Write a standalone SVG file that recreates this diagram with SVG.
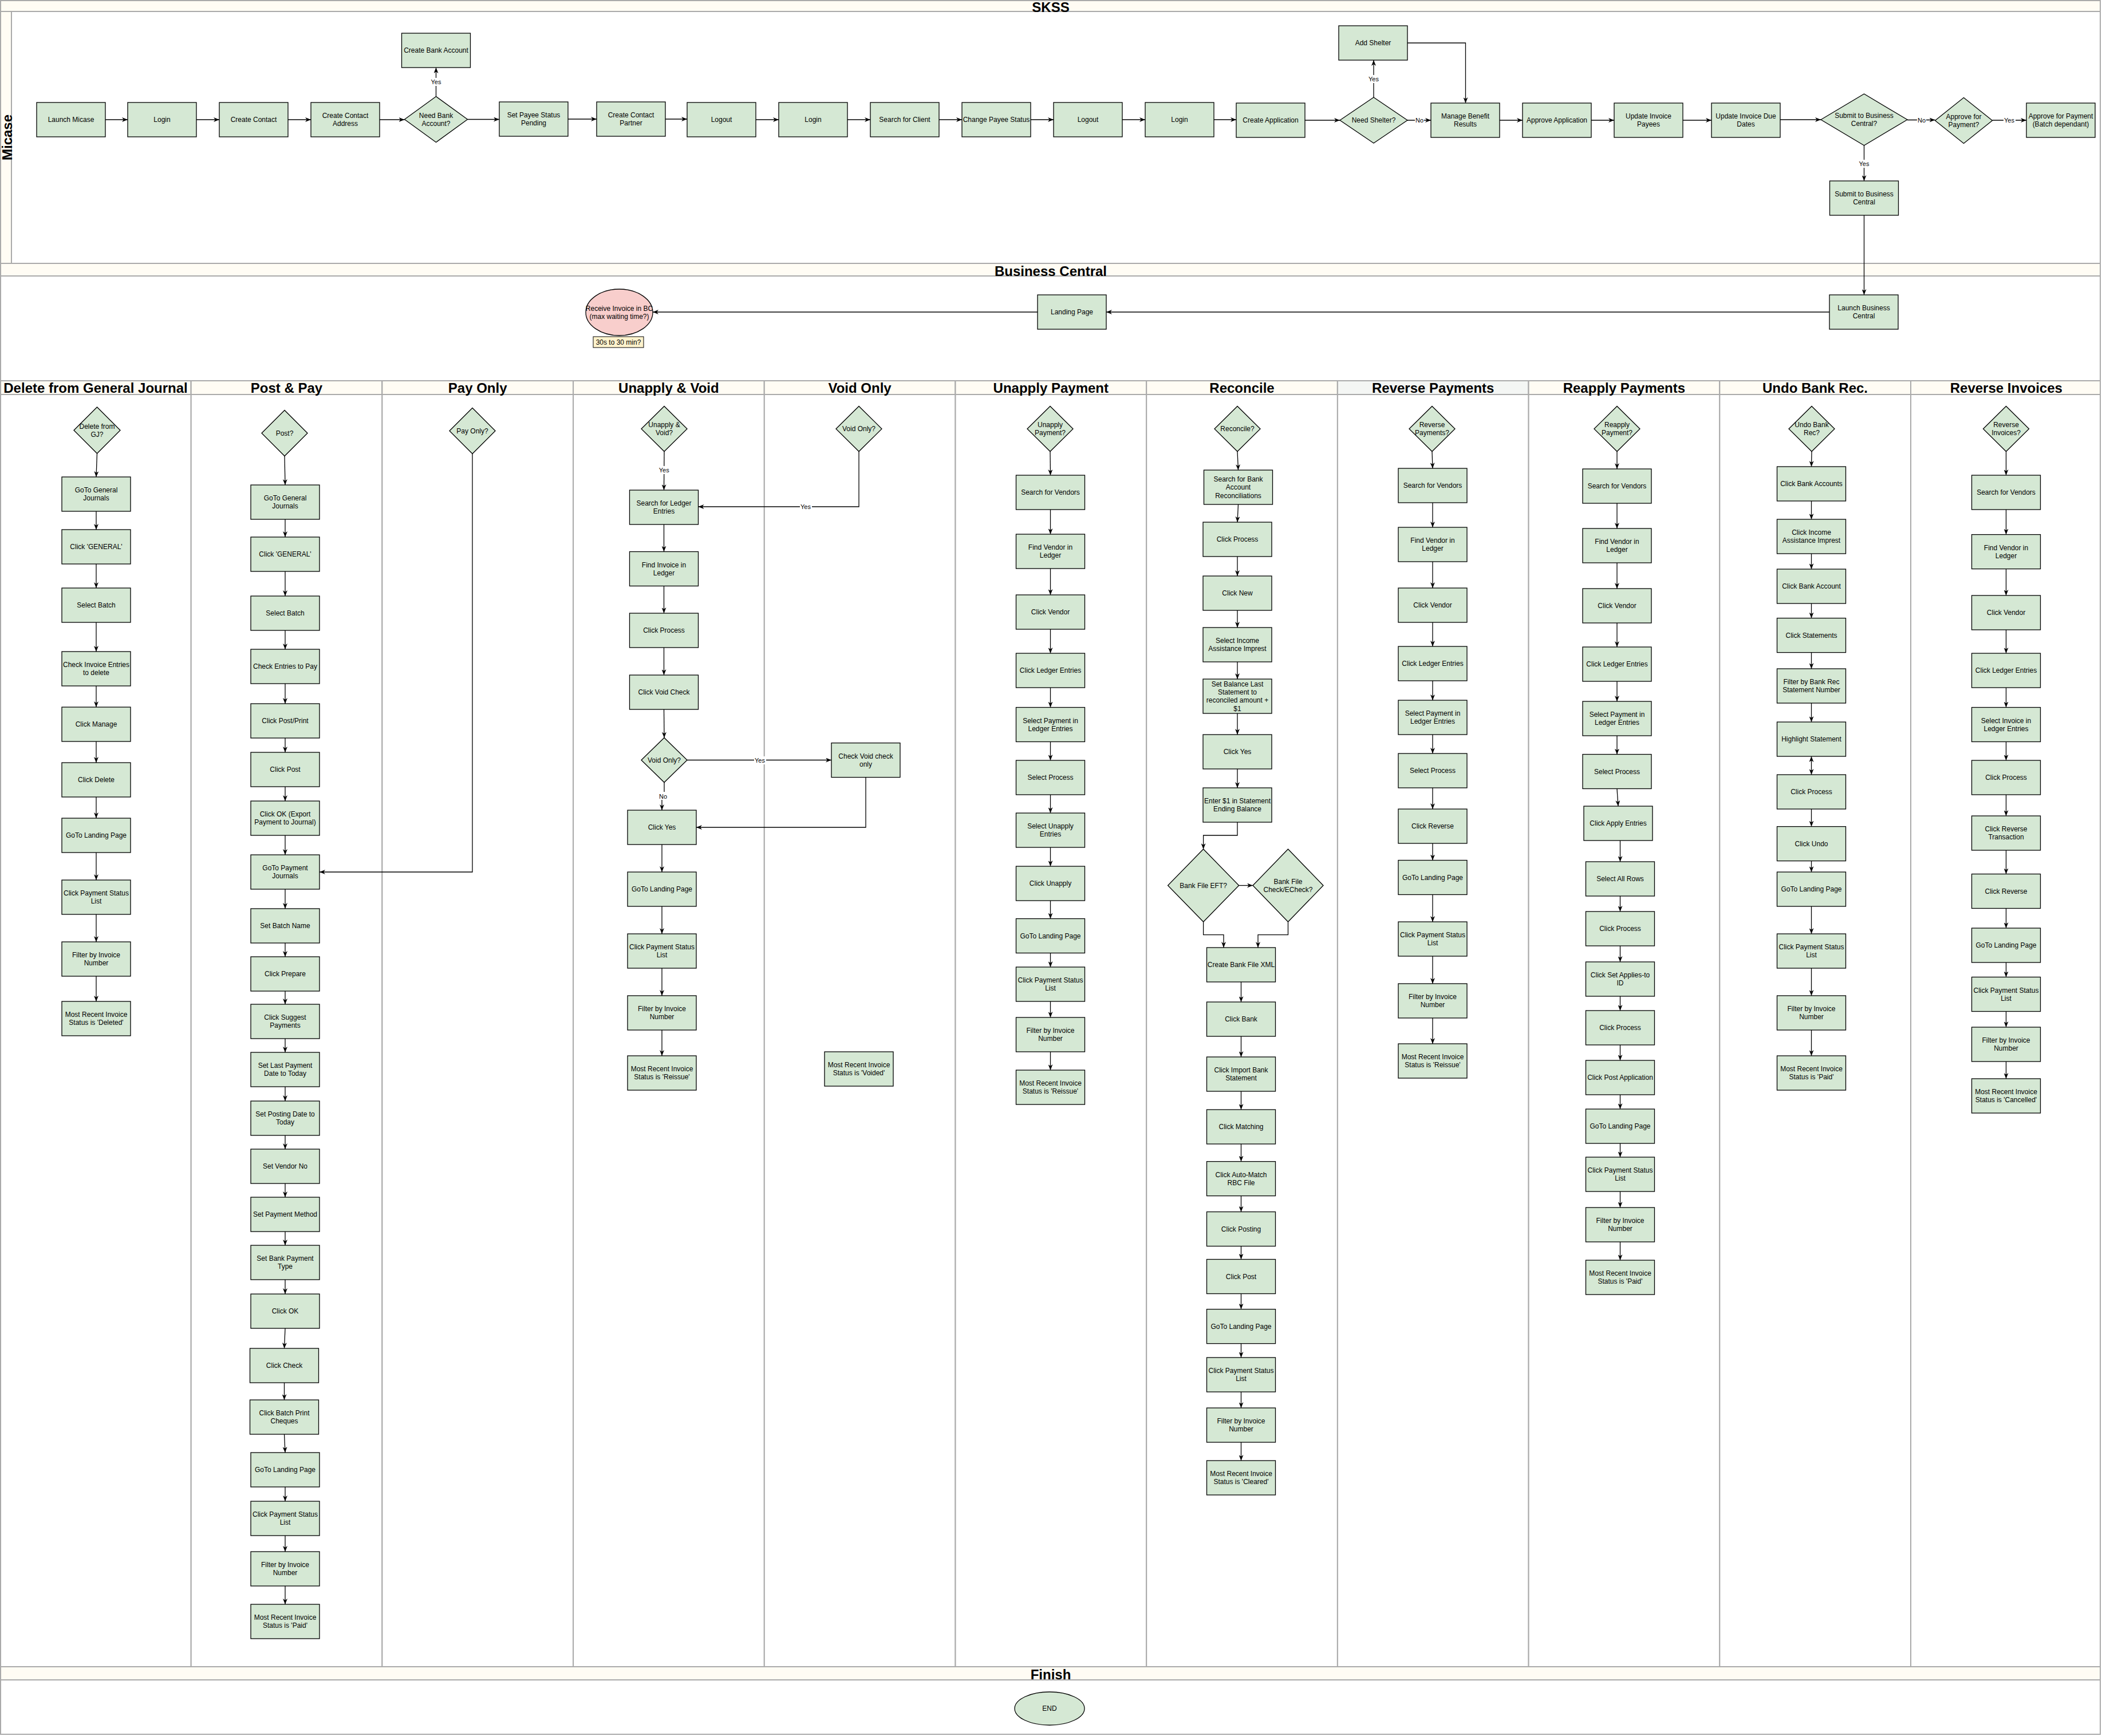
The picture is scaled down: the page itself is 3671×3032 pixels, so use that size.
<svg xmlns="http://www.w3.org/2000/svg" width="3671" height="3032" viewBox="0 0 3671 3032">
<style>
.lane{fill:#fff;stroke:#aaa;stroke-width:2}
.hd{fill:#fffcf4;stroke:#aaa;stroke-width:2}
.ttl{font-family:"Liberation Sans",Arial,sans-serif;font-size:24px;font-weight:bold;text-anchor:middle;fill:#000}
.n{fill:#d5e8d4;stroke:#000;stroke-width:1.3}
.t{font-family:"Liberation Sans",Arial,sans-serif;font-size:12px;text-anchor:middle;fill:#000}
.c{fill:none;stroke:#000;stroke-width:1.3;marker-end:url(#ar)}
.lb{fill:#fff}
.el{font-family:"Liberation Sans",Arial,sans-serif;font-size:11px;text-anchor:middle;fill:#000}
</style>
<defs>
<marker id="ar" viewBox="0 0 10 8" refX="10" refY="4" markerWidth="10" markerHeight="8" markerUnits="userSpaceOnUse" orient="auto-start-reverse"><path d="M0,0 L10,4 L0,8 L3,4 Z" fill="#000"/></marker>
</defs>
<rect x="0" y="0" width="3671" height="3032" fill="#fff"/>
<g id="lanes">
<rect class="lane" x="1" y="1" width="3667" height="459"/>
<rect class="hd" x="1" y="1" width="3667" height="19"/>
<rect class="hd" x="1" y="20" width="19" height="440"/>
<text class="ttl" x="1835" y="21">SKSS</text>
<text class="ttl" transform="translate(21,240) rotate(-90)" x="0" y="0">Micase</text>
<rect class="lane" x="1" y="460" width="3667" height="205"/>
<rect class="hd" x="1" y="460" width="3667" height="22"/>
<text class="ttl" x="1835" y="482">Business Central</text>
<rect class="lane" x="1" y="665" width="332.7" height="2246"/>
<rect class="hd" x="1" y="665" width="332.7" height="24"/>
<text class="ttl" x="167" y="686">Delete from General Journal</text>
<rect class="lane" x="333.7" y="665" width="333.7" height="2246"/>
<rect class="hd" x="333.7" y="665" width="333.7" height="24"/>
<text class="ttl" x="500.5" y="686">Post &amp; Pay</text>
<rect class="lane" x="667.4" y="665" width="333.7" height="2246"/>
<rect class="hd" x="667.4" y="665" width="333.7" height="24"/>
<text class="ttl" x="834.2" y="686">Pay Only</text>
<rect class="lane" x="1001.1" y="665" width="333.7" height="2246"/>
<rect class="hd" x="1001.1" y="665" width="333.7" height="24"/>
<text class="ttl" x="1167.9" y="686">Unapply &amp; Void</text>
<rect class="lane" x="1334.8" y="665" width="333.7" height="2246"/>
<rect class="hd" x="1334.8" y="665" width="333.7" height="24"/>
<text class="ttl" x="1501.6" y="686">Void Only</text>
<rect class="lane" x="1668.5" y="665" width="333.7" height="2246"/>
<rect class="hd" x="1668.5" y="665" width="333.7" height="24"/>
<text class="ttl" x="1835.3" y="686">Unapply Payment</text>
<rect class="lane" x="2002.2" y="665" width="333.7" height="2246"/>
<rect class="hd" x="2002.2" y="665" width="333.7" height="24"/>
<text class="ttl" x="2169" y="686">Reconcile</text>
<rect class="lane" x="2335.9" y="665" width="333.7" height="2246"/>
<rect class="hd" x="2335.9" y="665" width="333.7" height="24" style="fill:#f4f6f4"/>
<text class="ttl" x="2502.7" y="686">Reverse Payments</text>
<rect class="lane" x="2669.6" y="665" width="333.7" height="2246"/>
<rect class="hd" x="2669.6" y="665" width="333.7" height="24"/>
<text class="ttl" x="2836.4" y="686">Reapply Payments</text>
<rect class="lane" x="3003.3" y="665" width="333.7" height="2246"/>
<rect class="hd" x="3003.3" y="665" width="333.7" height="24"/>
<text class="ttl" x="3170" y="686">Undo Bank Rec.</text>
<rect class="lane" x="3337" y="665" width="331" height="2246"/>
<rect class="hd" x="3337" y="665" width="331" height="24"/>
<text class="ttl" x="3503.8" y="686">Reverse Invoices</text>
<rect class="lane" x="1" y="2911" width="3667" height="118"/>
<rect class="hd" x="1" y="2911" width="3667" height="23"/>
<text class="ttl" x="1835" y="2933">Finish</text>
</g>

<g id="connectors">
<path class="c" d="M184,209 H223"/>
<path class="c" d="M343,209 H383"/>
<path class="c" d="M503,209 H543"/>
<path class="c" d="M663,209 H706.5"/>
<path class="c" d="M761.5,168.5 V118"/>
<path class="c" d="M816.5,208.5 H872"/>
<path class="c" d="M992,208 H1042"/>
<path class="c" d="M1162,208 H1200"/>
<path class="c" d="M1320,209 H1360"/>
<path class="c" d="M1480,209 H1520"/>
<path class="c" d="M1640,209 H1680"/>
<path class="c" d="M1800,209 H1840"/>
<path class="c" d="M1960,209 H2000"/>
<path class="c" d="M2120,209 H2159"/>
<path class="c" d="M2279,210 H2340"/>
<path class="c" d="M2399,170 V105"/>
<path class="c" d="M2458,75 H2559.5 V180"/>
<path class="c" d="M2458,210 H2499"/>
<path class="c" d="M2619,210 H2659"/>
<path class="c" d="M2779,210 H2819"/>
<path class="c" d="M2939,210 H2989"/>
<path class="c" d="M3109,209 H3180"/>
<path class="c" d="M3331,209.5 H3379.5"/>
<path class="c" d="M3479.5,210 H3539"/>
<path class="c" d="M3255.5,254 V316"/>
<path class="c" d="M3255.5,376 V515"/>
<path class="c" d="M3195,545 H1932"/>
<path class="c" d="M1812,545 H1140"/>
<!-- col0 -->
<path class="c" d="M169.5,792 L168,833"/>
<path class="c" d="M168,893 V925"/>
<path class="c" d="M168,985 V1027"/>
<path class="c" d="M168,1087 V1138"/>
<path class="c" d="M168,1198 V1235"/>
<path class="c" d="M168,1295 V1332"/>
<path class="c" d="M168,1392 V1429"/>
<path class="c" d="M168,1489 V1537"/>
<path class="c" d="M168,1597 V1645"/>
<path class="c" d="M168,1705 V1749"/>
<!-- col1 -->
<path class="c" d="M497,796.5 L498,847"/>
<path class="c" d="M498,907 V938"/>
<path class="c" d="M498,998 V1041"/>
<path class="c" d="M498,1101 V1134"/>
<path class="c" d="M498,1194 V1229"/>
<path class="c" d="M498,1289 V1314"/>
<path class="c" d="M498,1374 V1399"/>
<path class="c" d="M498,1459 V1493"/>
<path class="c" d="M498,1553 V1587"/>
<path class="c" d="M498,1647 V1671"/>
<path class="c" d="M498,1731 V1754"/>
<path class="c" d="M498,1814 V1838"/>
<path class="c" d="M498,1898 V1923"/>
<path class="c" d="M498,1983 V2007"/>
<path class="c" d="M498,2067 V2091"/>
<path class="c" d="M498,2151 V2175"/>
<path class="c" d="M498,2235 V2260"/>
<path class="c" d="M498,2320 L496.5,2355"/>
<path class="c" d="M496.5,2415 V2445"/>
<path class="c" d="M496.5,2505 L498,2537"/>
<path class="c" d="M498,2597 V2622"/>
<path class="c" d="M498,2682 V2710"/>
<path class="c" d="M498,2770 V2802"/>
<!-- col2 -->
<path class="c" d="M825,792.5 V1523 H558"/>
<!-- col3 -->
<path class="c" d="M1160,788.5 L1159.5,856"/>
<path class="c" d="M1159.5,916 V963.5"/>
<path class="c" d="M1159.5,1023.5 V1071"/>
<path class="c" d="M1159.5,1131 V1179"/>
<path class="c" d="M1159.5,1239 L1160,1288.5"/>
<path class="c" d="M1160,1366.5 V1390 H1156 V1415"/>
<path class="c" d="M1200,1327.5 H1452"/>
<path class="c" d="M1512,1357.6 V1445 H1216"/>
<path class="c" d="M1156,1475 V1523"/>
<path class="c" d="M1156,1583 V1631"/>
<path class="c" d="M1156,1691 V1739"/>
<path class="c" d="M1156,1799 V1844"/>
<!-- col4 -->
<path class="c" d="M1500,788.5 V885 H1219.5"/>
<!-- col5 -->
<path class="c" d="M1834,788.5 L1834.5,830"/>
<path class="c" d="M1834.5,890 V933"/>
<path class="c" d="M1834.5,993 V1039"/>
<path class="c" d="M1834.5,1099 V1141"/>
<path class="c" d="M1834.5,1201 V1235.5"/>
<path class="c" d="M1834.5,1295.5 V1328"/>
<path class="c" d="M1834.5,1388 V1420"/>
<path class="c" d="M1834.5,1480 V1513"/>
<path class="c" d="M1834.5,1573 V1604.5"/>
<path class="c" d="M1834.5,1664.5 V1689"/>
<path class="c" d="M1834.5,1749 V1777"/>
<path class="c" d="M1834.5,1837 V1869"/>
<!-- col6 -->
<path class="c" d="M2161,788.5 L2162.5,821"/>
<path class="c" d="M2162.5,881 L2161,912"/>
<path class="c" d="M2161,972 V1006"/>
<path class="c" d="M2161,1066 V1096"/>
<path class="c" d="M2161,1156 V1186"/>
<path class="c" d="M2161,1246 V1283"/>
<path class="c" d="M2161,1343 V1376"/>
<path class="c" d="M2161,1436 V1459 H2101.6 V1483"/>
<path class="c" d="M2163.6,1546.5 H2188"/>
<path class="c" d="M2101.6,1610 V1632.6 H2137 V1655"/>
<path class="c" d="M2249.5,1610 V1632.6 H2197 V1655"/>
<path class="c" d="M2167.5,1715 V1750"/>
<path class="c" d="M2167.5,1810 V1846"/>
<path class="c" d="M2167.5,1906 V1938"/>
<path class="c" d="M2167.5,1998 V2028.6"/>
<path class="c" d="M2167.5,2088.6 V2116.5"/>
<path class="c" d="M2167.5,2176.5 V2199.5"/>
<path class="c" d="M2167.5,2259.5 V2286.6"/>
<path class="c" d="M2167.5,2346.6 V2371"/>
<path class="c" d="M2167.5,2431 V2459"/>
<path class="c" d="M2167.5,2519 V2551"/>
<!-- col7 -->
<path class="c" d="M2501,788.5 L2502,818"/>
<path class="c" d="M2502,878 V921"/>
<path class="c" d="M2502,981 V1027"/>
<path class="c" d="M2502,1087 V1129"/>
<path class="c" d="M2502,1189 V1223"/>
<path class="c" d="M2502,1283 V1316"/>
<path class="c" d="M2502,1376 V1413"/>
<path class="c" d="M2502,1473 V1502.5"/>
<path class="c" d="M2502,1562.5 V1610"/>
<path class="c" d="M2502,1670 V1718"/>
<path class="c" d="M2502,1778 V1823"/>
<!-- col8 -->
<path class="c" d="M2824,788.5 V819"/>
<path class="c" d="M2824,879 V923"/>
<path class="c" d="M2824,983 V1028"/>
<path class="c" d="M2824,1088 V1130"/>
<path class="c" d="M2824,1190 V1225"/>
<path class="c" d="M2824,1285 V1317.5"/>
<path class="c" d="M2824,1377.5 L2826,1408"/>
<path class="c" d="M2829.5,1468 V1505"/>
<path class="c" d="M2829.5,1565 V1592"/>
<path class="c" d="M2829.5,1652 V1680"/>
<path class="c" d="M2829.5,1740 V1765"/>
<path class="c" d="M2829.5,1825 V1852"/>
<path class="c" d="M2829.5,1912 V1937"/>
<path class="c" d="M2829.5,1997 V2021"/>
<path class="c" d="M2829.5,2081 V2109"/>
<path class="c" d="M2829.5,2169 V2201"/>
<!-- col9 -->
<path class="c" d="M3164,788.5 L3163.5,815"/>
<path class="c" d="M3163.5,875 V907"/>
<path class="c" d="M3163.5,967 V994"/>
<path class="c" d="M3163.5,1054 V1079.6"/>
<path class="c" d="M3163.5,1139.6 V1168"/>
<path class="c" d="M3163.5,1228 V1261"/>
<path class="c" d="M3163.5,1321 V1353" style="marker-start:url(#ar)"/>
<path class="c" d="M3163.5,1413 V1443.6"/>
<path class="c" d="M3163.5,1503.6 V1523"/>
<path class="c" d="M3163.5,1583 V1631"/>
<path class="c" d="M3163.5,1691 V1739"/>
<path class="c" d="M3163.5,1799 V1844"/>
<!-- col10 -->
<path class="c" d="M3503.5,788.5 V830"/>
<path class="c" d="M3503.5,890 V933.6"/>
<path class="c" d="M3503.5,993.6 V1040"/>
<path class="c" d="M3503.5,1100 V1141"/>
<path class="c" d="M3503.5,1201 V1235.5"/>
<path class="c" d="M3503.5,1295.5 V1328"/>
<path class="c" d="M3503.5,1388 V1425"/>
<path class="c" d="M3503.5,1485 V1526.5"/>
<path class="c" d="M3503.5,1586.5 V1621"/>
<path class="c" d="M3503.5,1681 V1706.5"/>
<path class="c" d="M3503.5,1766.5 V1794"/>
<path class="c" d="M3503.5,1854 V1884"/>
<!-- edge labels -->
<rect class="lb" x="751" y="136" width="21" height="14"/><text class="el" x="761.5" y="147">Yes</text>
<rect class="lb" x="2389" y="131" width="21" height="14"/><text class="el" x="2399" y="142">Yes</text>
<rect class="lb" x="2471" y="203" width="16" height="14"/><text class="el" x="2479" y="214">No</text>
<rect class="lb" x="3348" y="203" width="16" height="14"/><text class="el" x="3356" y="213.5">No</text>
<rect class="lb" x="3499" y="203" width="21" height="14"/><text class="el" x="3509" y="214">Yes</text>
<rect class="lb" x="3245" y="279" width="21" height="14"/><text class="el" x="3255.5" y="290">Yes</text>
<rect class="lb" x="1149" y="814" width="21" height="14"/><text class="el" x="1159.7" y="825">Yes</text>
<rect class="lb" x="1150" y="1383" width="16" height="14"/><text class="el" x="1158" y="1394.5">No</text>
<rect class="lb" x="1317" y="1321" width="21" height="14"/><text class="el" x="1327" y="1331.5">Yes</text>
<rect class="lb" x="1397" y="878" width="21" height="14"/><text class="el" x="1407" y="889">Yes</text>
</g>

<!-- SKSS nodes -->
<g id="launch-micase"><rect class="n" x="64" y="179" width="120" height="60"/><text class="t" x="124" y="213">Launch Micase</text></g>
<g id="login-1"><rect class="n" x="223" y="179" width="120" height="60"/><text class="t" x="283" y="213">Login</text></g>
<g id="create-contact"><rect class="n" x="383" y="179" width="120" height="60"/><text class="t" x="443" y="213">Create Contact</text></g>
<g id="create-contact-address"><rect class="n" x="543" y="179" width="120" height="60"/><text class="t" x="603" y="206"><tspan x="603">Create Contact</tspan><tspan x="603" dy="14.4">Address</tspan></text></g>
<g id="need-bank-account"><polygon class="n" points="706.5,208.5 761.5,168.5 816.5,208.5 761.5,248.5"/><text class="t" x="761.5" y="205.5"><tspan x="761.5">Need Bank</tspan><tspan x="761.5" dy="14.4">Account?</tspan></text></g>
<g id="create-bank-account"><rect class="n" x="701.5" y="58" width="120" height="60"/><text class="t" x="761.5" y="92">Create Bank Account</text></g>
<g id="set-payee-status"><rect class="n" x="872" y="178" width="120" height="60"/><text class="t" x="932" y="205"><tspan x="932">Set Payee Status</tspan><tspan x="932" dy="14.4">Pending</tspan></text></g>
<g id="create-contact-partner"><rect class="n" x="1042" y="178" width="120" height="60"/><text class="t" x="1102" y="205"><tspan x="1102">Create Contact</tspan><tspan x="1102" dy="14.4">Partner</tspan></text></g>
<g id="logout-1"><rect class="n" x="1200" y="179" width="120" height="60"/><text class="t" x="1260" y="213">Logout</text></g>
<g id="login-2"><rect class="n" x="1360" y="179" width="120" height="60"/><text class="t" x="1420" y="213">Login</text></g>
<g id="search-client"><rect class="n" x="1520" y="179" width="120" height="60"/><text class="t" x="1580" y="213">Search for Client</text></g>
<g id="change-payee-status"><rect class="n" x="1680" y="179" width="120" height="60"/><text class="t" x="1740" y="213">Change Payee Status</text></g>
<g id="logout-2"><rect class="n" x="1840" y="179" width="120" height="60"/><text class="t" x="1900" y="213">Logout</text></g>
<g id="login-3"><rect class="n" x="2000" y="179" width="120" height="60"/><text class="t" x="2060" y="213">Login</text></g>
<g id="create-application"><rect class="n" x="2159" y="180" width="120" height="60"/><text class="t" x="2219" y="214">Create Application</text></g>
<g id="need-shelter"><polygon class="n" points="2340,210 2399,170 2458,210 2399,250"/><text class="t" x="2399" y="214">Need Shelter?</text></g>
<g id="add-shelter"><rect class="n" x="2338" y="45" width="120" height="60"/><text class="t" x="2398" y="79">Add Shelter</text></g>
<g id="manage-benefit"><rect class="n" x="2499" y="180" width="120" height="60"/><text class="t" x="2559" y="207"><tspan x="2559">Manage Benefit</tspan><tspan x="2559" dy="14.4">Results</tspan></text></g>
<g id="approve-application"><rect class="n" x="2659" y="180" width="120" height="60"/><text class="t" x="2719" y="214">Approve Application</text></g>
<g id="update-invoice-payees"><rect class="n" x="2819" y="180" width="120" height="60"/><text class="t" x="2879" y="207"><tspan x="2879">Update Invoice</tspan><tspan x="2879" dy="14.4">Payees</tspan></text></g>
<g id="update-invoice-due"><rect class="n" x="2989" y="180" width="120" height="60"/><text class="t" x="3049" y="207"><tspan x="3049">Update Invoice Due</tspan><tspan x="3049" dy="14.4">Dates</tspan></text></g>
<g id="submit-bc-q"><polygon class="n" points="3180,209 3255.5,164 3331,209 3255.5,254"/><text class="t" x="3255.5" y="206"><tspan x="3255.5">Submit to Business</tspan><tspan x="3255.5" dy="14.4">Central?</tspan></text></g>
<g id="approve-payment-q"><polygon class="n" points="3379.5,210.5 3429.5,170.5 3479.5,210.5 3429.5,250.5"/><text class="t" x="3429.5" y="207.5"><tspan x="3429.5">Approve for</tspan><tspan x="3429.5" dy="14.4">Payment?</tspan></text></g>
<g id="approve-payment"><rect class="n" x="3539" y="180" width="120" height="60"/><text class="t" x="3599" y="207"><tspan x="3599">Approve for Payment</tspan><tspan x="3599" dy="14.4">(Batch dependant)</tspan></text></g>
<g id="submit-bc"><rect class="n" x="3195.5" y="316" width="120" height="60"/><text class="t" x="3255.5" y="343"><tspan x="3255.5">Submit to Business</tspan><tspan x="3255.5" dy="14.4">Central</tspan></text></g>

<!-- Business Central nodes -->
<g id="receive-invoice"><ellipse cx="1081.5" cy="545.5" rx="58.5" ry="40.5" fill="#f8cecc" stroke="#000" stroke-width="1.3"/><text class="t" x="1081.5" y="542.5"><tspan x="1081.5">Receive Invoice in BC</tspan><tspan x="1081.5" dy="14.4">(max waiting time?)</tspan></text></g>
<g id="wait-note"><rect x="1036" y="588" width="88" height="19" fill="#fff2cc" stroke="#000" stroke-width="1"/><text class="t" x="1080" y="601.5">30s to 30 min?</text></g>
<g id="landing-page"><rect class="n" x="1812" y="515" width="120" height="60"/><text class="t" x="1872" y="549">Landing Page</text></g>
<g id="launch-bc"><rect class="n" x="3195" y="515" width="120" height="60"/><text class="t" x="3255" y="542"><tspan x="3255">Launch Business</tspan><tspan x="3255" dy="14.4">Central</tspan></text></g>

<!-- Delete from General Journal -->
<g id="dgj-q"><polygon class="n" points="129,751.5 169.5,711 210,751.5 169.5,792"/><text class="t" x="169.5" y="748.5"><tspan x="169.5">Delete from</tspan><tspan x="169.5" dy="14.4">GJ?</tspan></text></g>
<g id="dgj-1"><rect class="n" x="108" y="833" width="120" height="60"/><text class="t" x="168" y="860"><tspan x="168">GoTo General</tspan><tspan x="168" dy="14.4">Journals</tspan></text></g>
<g id="dgj-2"><rect class="n" x="108" y="925" width="120" height="60"/><text class="t" x="168" y="959">Click 'GENERAL'</text></g>
<g id="dgj-3"><rect class="n" x="108" y="1027" width="120" height="60"/><text class="t" x="168" y="1061">Select Batch</text></g>
<g id="dgj-4"><rect class="n" x="108" y="1138" width="120" height="60"/><text class="t" x="168" y="1165"><tspan x="168">Check Invoice Entries</tspan><tspan x="168" dy="14.4">to delete</tspan></text></g>
<g id="dgj-5"><rect class="n" x="108" y="1235" width="120" height="60"/><text class="t" x="168" y="1269">Click Manage</text></g>
<g id="dgj-6"><rect class="n" x="108" y="1332" width="120" height="60"/><text class="t" x="168" y="1366">Click Delete</text></g>
<g id="dgj-7"><rect class="n" x="108" y="1429" width="120" height="60"/><text class="t" x="168" y="1463">GoTo Landing Page</text></g>
<g id="dgj-8"><rect class="n" x="108" y="1537" width="120" height="60"/><text class="t" x="168" y="1564"><tspan x="168">Click Payment Status</tspan><tspan x="168" dy="14.4">List</tspan></text></g>
<g id="dgj-9"><rect class="n" x="108" y="1645" width="120" height="60"/><text class="t" x="168" y="1672"><tspan x="168">Filter by Invoice</tspan><tspan x="168" dy="14.4">Number</tspan></text></g>
<g id="dgj-10"><rect class="n" x="108" y="1749" width="120" height="60"/><text class="t" x="168" y="1776"><tspan x="168">Most Recent Invoice</tspan><tspan x="168" dy="14.4">Status is 'Deleted'</tspan></text></g>

<!-- Post & Pay -->
<g id="pp-q"><polygon class="n" points="457,756.5 497,716.5 537,756.5 497,796.5"/><text class="t" x="497" y="760.5">Post?</text></g>
<g id="pp-1"><rect class="n" x="438" y="847" width="120" height="60"/><text class="t" x="498" y="874"><tspan x="498">GoTo General</tspan><tspan x="498" dy="14.4">Journals</tspan></text></g>
<g id="pp-2"><rect class="n" x="438" y="938" width="120" height="60"/><text class="t" x="498" y="972">Click 'GENERAL'</text></g>
<g id="pp-3"><rect class="n" x="438" y="1041" width="120" height="60"/><text class="t" x="498" y="1075">Select Batch</text></g>
<g id="pp-4"><rect class="n" x="438" y="1134" width="120" height="60"/><text class="t" x="498" y="1168">Check Entries to Pay</text></g>
<g id="pp-5"><rect class="n" x="438" y="1229" width="120" height="60"/><text class="t" x="498" y="1263">Click Post/Print</text></g>
<g id="pp-6"><rect class="n" x="438" y="1314" width="120" height="60"/><text class="t" x="498" y="1348">Click Post</text></g>
<g id="pp-7"><rect class="n" x="438" y="1399" width="120" height="60"/><text class="t" x="498" y="1426"><tspan x="498">Click OK (Export</tspan><tspan x="498" dy="14.4">Payment to Journal)</tspan></text></g>
<g id="pp-8"><rect class="n" x="438" y="1493" width="120" height="60"/><text class="t" x="498" y="1520"><tspan x="498">GoTo Payment</tspan><tspan x="498" dy="14.4">Journals</tspan></text></g>
<g id="pp-9"><rect class="n" x="438" y="1587" width="120" height="60"/><text class="t" x="498" y="1621">Set Batch Name</text></g>
<g id="pp-10"><rect class="n" x="438" y="1671" width="120" height="60"/><text class="t" x="498" y="1705">Click Prepare</text></g>
<g id="pp-11"><rect class="n" x="438" y="1754" width="120" height="60"/><text class="t" x="498" y="1781"><tspan x="498">Click Suggest</tspan><tspan x="498" dy="14.4">Payments</tspan></text></g>
<g id="pp-12"><rect class="n" x="438" y="1838" width="120" height="60"/><text class="t" x="498" y="1865"><tspan x="498">Set Last Payment</tspan><tspan x="498" dy="14.4">Date to Today</tspan></text></g>
<g id="pp-13"><rect class="n" x="438" y="1923" width="120" height="60"/><text class="t" x="498" y="1950"><tspan x="498">Set Posting Date to</tspan><tspan x="498" dy="14.4">Today</tspan></text></g>
<g id="pp-14"><rect class="n" x="438" y="2007" width="120" height="60"/><text class="t" x="498" y="2041">Set Vendor No</text></g>
<g id="pp-15"><rect class="n" x="438" y="2091" width="120" height="60"/><text class="t" x="498" y="2125">Set Payment Method</text></g>
<g id="pp-16"><rect class="n" x="438" y="2175" width="120" height="60"/><text class="t" x="498" y="2202"><tspan x="498">Set Bank Payment</tspan><tspan x="498" dy="14.4">Type</tspan></text></g>
<g id="pp-17"><rect class="n" x="438" y="2260" width="120" height="60"/><text class="t" x="498" y="2294">Click OK</text></g>
<g id="pp-18"><rect class="n" x="436.5" y="2355" width="120" height="60"/><text class="t" x="496.5" y="2389">Click Check</text></g>
<g id="pp-19"><rect class="n" x="436.5" y="2445" width="120" height="60"/><text class="t" x="496.5" y="2472"><tspan x="496.5">Click Batch Print</tspan><tspan x="496.5" dy="14.4">Cheques</tspan></text></g>
<g id="pp-20"><rect class="n" x="438" y="2537" width="120" height="60"/><text class="t" x="498" y="2571">GoTo Landing Page</text></g>
<g id="pp-21"><rect class="n" x="438" y="2622" width="120" height="60"/><text class="t" x="498" y="2649"><tspan x="498">Click Payment Status</tspan><tspan x="498" dy="14.4">List</tspan></text></g>
<g id="pp-22"><rect class="n" x="438" y="2710" width="120" height="60"/><text class="t" x="498" y="2737"><tspan x="498">Filter by Invoice</tspan><tspan x="498" dy="14.4">Number</tspan></text></g>
<g id="pp-23"><rect class="n" x="438" y="2802" width="120" height="60"/><text class="t" x="498" y="2829"><tspan x="498">Most Recent Invoice</tspan><tspan x="498" dy="14.4">Status is 'Paid'</tspan></text></g>

<!-- Pay Only -->
<g id="po-q"><polygon class="n" points="785,752.5 825,712.5 865,752.5 825,792.5"/><text class="t" x="825" y="756.5">Pay Only?</text></g>

<!-- Unapply & Void -->
<g id="uv-q"><polygon class="n" points="1120,749 1160,709.5 1200,749 1160,788.5"/><text class="t" x="1160" y="746"><tspan x="1160">Unapply &amp;</tspan><tspan x="1160" dy="14.4">Void?</tspan></text></g>
<g id="uv-1"><rect class="n" x="1099.5" y="856" width="120" height="60"/><text class="t" x="1159.5" y="883"><tspan x="1159.5">Search for Ledger</tspan><tspan x="1159.5" dy="14.4">Entries</tspan></text></g>
<g id="uv-2"><rect class="n" x="1099.5" y="963.5" width="120" height="60"/><text class="t" x="1159.5" y="990.5"><tspan x="1159.5">Find Invoice in</tspan><tspan x="1159.5" dy="14.4">Ledger</tspan></text></g>
<g id="uv-3"><rect class="n" x="1099.5" y="1071" width="120" height="60"/><text class="t" x="1159.5" y="1105">Click Process</text></g>
<g id="uv-4"><rect class="n" x="1099.5" y="1179" width="120" height="60"/><text class="t" x="1159.5" y="1213">Click Void Check</text></g>
<g id="uv-void-q"><polygon class="n" points="1120,1327.5 1160,1288.5 1200,1327.5 1160,1366.5"/><text class="t" x="1160" y="1331.5">Void Only?</text></g>
<g id="uv-5"><rect class="n" x="1096" y="1415" width="120" height="60"/><text class="t" x="1156" y="1449">Click Yes</text></g>
<g id="uv-6"><rect class="n" x="1096" y="1523" width="120" height="60"/><text class="t" x="1156" y="1557">GoTo Landing Page</text></g>
<g id="uv-7"><rect class="n" x="1096" y="1631" width="120" height="60"/><text class="t" x="1156" y="1658"><tspan x="1156">Click Payment Status</tspan><tspan x="1156" dy="14.4">List</tspan></text></g>
<g id="uv-8"><rect class="n" x="1096" y="1739" width="120" height="60"/><text class="t" x="1156" y="1766"><tspan x="1156">Filter by Invoice</tspan><tspan x="1156" dy="14.4">Number</tspan></text></g>
<g id="uv-9"><rect class="n" x="1096" y="1844" width="120" height="60"/><text class="t" x="1156" y="1871"><tspan x="1156">Most Recent Invoice</tspan><tspan x="1156" dy="14.4">Status is 'Reissue'</tspan></text></g>

<!-- Void Only -->
<g id="vo-q"><polygon class="n" points="1460,749 1500,709.5 1540,749 1500,788.5"/><text class="t" x="1500" y="753">Void Only?</text></g>
<g id="vo-check"><rect class="n" x="1452" y="1297.6" width="120" height="60"/><text class="t" x="1512" y="1324.6"><tspan x="1512">Check Void check</tspan><tspan x="1512" dy="14.4">only</tspan></text></g>
<g id="vo-end"><rect class="n" x="1440" y="1837" width="120" height="60"/><text class="t" x="1500" y="1864"><tspan x="1500">Most Recent Invoice</tspan><tspan x="1500" dy="14.4">Status is 'Voided'</tspan></text></g>

<!-- Unapply Payment -->
<g id="up-q"><polygon class="n" points="1794,749 1834,709.5 1874,749 1834,788.5"/><text class="t" x="1834" y="746"><tspan x="1834">Unapply</tspan><tspan x="1834" dy="14.4">Payment?</tspan></text></g>
<g id="up-1"><rect class="n" x="1774.5" y="830" width="120" height="60"/><text class="t" x="1834.5" y="864">Search for Vendors</text></g>
<g id="up-2"><rect class="n" x="1774.5" y="933" width="120" height="60"/><text class="t" x="1834.5" y="960"><tspan x="1834.5">Find Vendor in</tspan><tspan x="1834.5" dy="14.4">Ledger</tspan></text></g>
<g id="up-3"><rect class="n" x="1774.5" y="1039" width="120" height="60"/><text class="t" x="1834.5" y="1073">Click Vendor</text></g>
<g id="up-4"><rect class="n" x="1774.5" y="1141" width="120" height="60"/><text class="t" x="1834.5" y="1175">Click Ledger Entries</text></g>
<g id="up-5"><rect class="n" x="1774.5" y="1235.5" width="120" height="60"/><text class="t" x="1834.5" y="1262.5"><tspan x="1834.5">Select Payment in</tspan><tspan x="1834.5" dy="14.4">Ledger Entries</tspan></text></g>
<g id="up-6"><rect class="n" x="1774.5" y="1328" width="120" height="60"/><text class="t" x="1834.5" y="1362">Select Process</text></g>
<g id="up-7"><rect class="n" x="1774.5" y="1420" width="120" height="60"/><text class="t" x="1834.5" y="1447"><tspan x="1834.5">Select Unapply</tspan><tspan x="1834.5" dy="14.4">Entries</tspan></text></g>
<g id="up-8"><rect class="n" x="1774.5" y="1513" width="120" height="60"/><text class="t" x="1834.5" y="1547">Click Unapply</text></g>
<g id="up-9"><rect class="n" x="1774.5" y="1604.5" width="120" height="60"/><text class="t" x="1834.5" y="1638.5">GoTo Landing Page</text></g>
<g id="up-10"><rect class="n" x="1774.5" y="1689" width="120" height="60"/><text class="t" x="1834.5" y="1716"><tspan x="1834.5">Click Payment Status</tspan><tspan x="1834.5" dy="14.4">List</tspan></text></g>
<g id="up-11"><rect class="n" x="1774.5" y="1777" width="120" height="60"/><text class="t" x="1834.5" y="1804"><tspan x="1834.5">Filter by Invoice</tspan><tspan x="1834.5" dy="14.4">Number</tspan></text></g>
<g id="up-12"><rect class="n" x="1774.5" y="1869" width="120" height="60"/><text class="t" x="1834.5" y="1896"><tspan x="1834.5">Most Recent Invoice</tspan><tspan x="1834.5" dy="14.4">Status is 'Reissue'</tspan></text></g>

<!-- Reconcile -->
<g id="rc-q"><polygon class="n" points="2121,749 2161,709.5 2201,749 2161,788.5"/><text class="t" x="2161" y="753">Reconcile?</text></g>
<g id="rc-1"><rect class="n" x="2102.5" y="821" width="120" height="60"/><text class="t" x="2162.5" y="840.8"><tspan x="2162.5">Search for Bank</tspan><tspan x="2162.5" dy="14.4">Account</tspan><tspan x="2162.5" dy="14.4">Reconciliations</tspan></text></g>
<g id="rc-2"><rect class="n" x="2101" y="912" width="120" height="60"/><text class="t" x="2161" y="946">Click Process</text></g>
<g id="rc-3"><rect class="n" x="2101" y="1006" width="120" height="60"/><text class="t" x="2161" y="1040">Click New</text></g>
<g id="rc-4"><rect class="n" x="2101" y="1096" width="120" height="60"/><text class="t" x="2161" y="1123"><tspan x="2161">Select Income</tspan><tspan x="2161" dy="14.4">Assistance Imprest</tspan></text></g>
<g id="rc-5"><rect class="n" x="2101" y="1186" width="120" height="60"/><text class="t" x="2161" y="1198.6"><tspan x="2161">Set Balance Last</tspan><tspan x="2161" dy="14.4">Statement to</tspan><tspan x="2161" dy="14.4">reconciled amount +</tspan><tspan x="2161" dy="14.4">$1</tspan></text></g>
<g id="rc-6"><rect class="n" x="2101" y="1283" width="120" height="60"/><text class="t" x="2161" y="1317">Click Yes</text></g>
<g id="rc-7"><rect class="n" x="2101" y="1376" width="120" height="60"/><text class="t" x="2161" y="1403"><tspan x="2161">Enter $1 in Statement</tspan><tspan x="2161" dy="14.4">Ending Balance</tspan></text></g>
<g id="rc-eft-q"><polygon class="n" points="2039.6,1546.5 2101.6,1483 2163.6,1546.5 2101.6,1610"/><text class="t" x="2101.6" y="1550.5">Bank File EFT?</text></g>
<g id="rc-check-q"><polygon class="n" points="2188,1546.5 2249.5,1483 2311,1546.5 2249.5,1610"/><text class="t" x="2249.5" y="1543.5"><tspan x="2249.5">Bank File</tspan><tspan x="2249.5" dy="14.4">Check/ECheck?</tspan></text></g>
<g id="rc-8"><rect class="n" x="2107.5" y="1655" width="120" height="60"/><text class="t" x="2167.5" y="1689">Create Bank File XML</text></g>
<g id="rc-9"><rect class="n" x="2107.5" y="1750" width="120" height="60"/><text class="t" x="2167.5" y="1784">Click Bank</text></g>
<g id="rc-10"><rect class="n" x="2107.5" y="1846" width="120" height="60"/><text class="t" x="2167.5" y="1873"><tspan x="2167.5">Click Import Bank</tspan><tspan x="2167.5" dy="14.4">Statement</tspan></text></g>
<g id="rc-11"><rect class="n" x="2107.5" y="1938" width="120" height="60"/><text class="t" x="2167.5" y="1972">Click Matching</text></g>
<g id="rc-12"><rect class="n" x="2107.5" y="2028.6" width="120" height="60"/><text class="t" x="2167.5" y="2055.6"><tspan x="2167.5">Click Auto-Match</tspan><tspan x="2167.5" dy="14.4">RBC File</tspan></text></g>
<g id="rc-13"><rect class="n" x="2107.5" y="2116.5" width="120" height="60"/><text class="t" x="2167.5" y="2150.5">Click Posting</text></g>
<g id="rc-14"><rect class="n" x="2107.5" y="2199.5" width="120" height="60"/><text class="t" x="2167.5" y="2233.5">Click Post</text></g>
<g id="rc-15"><rect class="n" x="2107.5" y="2286.6" width="120" height="60"/><text class="t" x="2167.5" y="2320.6">GoTo Landing Page</text></g>
<g id="rc-16"><rect class="n" x="2107.5" y="2371" width="120" height="60"/><text class="t" x="2167.5" y="2398"><tspan x="2167.5">Click Payment Status</tspan><tspan x="2167.5" dy="14.4">List</tspan></text></g>
<g id="rc-17"><rect class="n" x="2107.5" y="2459" width="120" height="60"/><text class="t" x="2167.5" y="2486"><tspan x="2167.5">Filter by Invoice</tspan><tspan x="2167.5" dy="14.4">Number</tspan></text></g>
<g id="rc-18"><rect class="n" x="2107.5" y="2551" width="120" height="60"/><text class="t" x="2167.5" y="2578"><tspan x="2167.5">Most Recent Invoice</tspan><tspan x="2167.5" dy="14.4">Status is 'Cleared'</tspan></text></g>

<!-- Reverse Payments -->
<g id="rp-q"><polygon class="n" points="2461,749 2501,709.5 2541,749 2501,788.5"/><text class="t" x="2501" y="746"><tspan x="2501">Reverse</tspan><tspan x="2501" dy="14.4">Payments?</tspan></text></g>
<g id="rp-1"><rect class="n" x="2442" y="818" width="120" height="60"/><text class="t" x="2502" y="852">Search for Vendors</text></g>
<g id="rp-2"><rect class="n" x="2442" y="921" width="120" height="60"/><text class="t" x="2502" y="948"><tspan x="2502">Find Vendor in</tspan><tspan x="2502" dy="14.4">Ledger</tspan></text></g>
<g id="rp-3"><rect class="n" x="2442" y="1027" width="120" height="60"/><text class="t" x="2502" y="1061">Click Vendor</text></g>
<g id="rp-4"><rect class="n" x="2442" y="1129" width="120" height="60"/><text class="t" x="2502" y="1163">Click Ledger Entries</text></g>
<g id="rp-5"><rect class="n" x="2442" y="1223" width="120" height="60"/><text class="t" x="2502" y="1250"><tspan x="2502">Select Payment in</tspan><tspan x="2502" dy="14.4">Ledger Entries</tspan></text></g>
<g id="rp-6"><rect class="n" x="2442" y="1316" width="120" height="60"/><text class="t" x="2502" y="1350">Select Process</text></g>
<g id="rp-7"><rect class="n" x="2442" y="1413" width="120" height="60"/><text class="t" x="2502" y="1447">Click Reverse</text></g>
<g id="rp-8"><rect class="n" x="2442" y="1502.5" width="120" height="60"/><text class="t" x="2502" y="1536.5">GoTo Landing Page</text></g>
<g id="rp-9"><rect class="n" x="2442" y="1610" width="120" height="60"/><text class="t" x="2502" y="1637"><tspan x="2502">Click Payment Status</tspan><tspan x="2502" dy="14.4">List</tspan></text></g>
<g id="rp-10"><rect class="n" x="2442" y="1718" width="120" height="60"/><text class="t" x="2502" y="1745"><tspan x="2502">Filter by Invoice</tspan><tspan x="2502" dy="14.4">Number</tspan></text></g>
<g id="rp-11"><rect class="n" x="2442" y="1823" width="120" height="60"/><text class="t" x="2502" y="1850"><tspan x="2502">Most Recent Invoice</tspan><tspan x="2502" dy="14.4">Status is 'Reissue'</tspan></text></g>

<!-- Reapply Payments -->
<g id="ra-q"><polygon class="n" points="2784,749 2824,709.5 2864,749 2824,788.5"/><text class="t" x="2824" y="746"><tspan x="2824">Reapply</tspan><tspan x="2824" dy="14.4">Payment?</tspan></text></g>
<g id="ra-1"><rect class="n" x="2764" y="819" width="120" height="60"/><text class="t" x="2824" y="853">Search for Vendors</text></g>
<g id="ra-2"><rect class="n" x="2764" y="923" width="120" height="60"/><text class="t" x="2824" y="950"><tspan x="2824">Find Vendor in</tspan><tspan x="2824" dy="14.4">Ledger</tspan></text></g>
<g id="ra-3"><rect class="n" x="2764" y="1028" width="120" height="60"/><text class="t" x="2824" y="1062">Click Vendor</text></g>
<g id="ra-4"><rect class="n" x="2764" y="1130" width="120" height="60"/><text class="t" x="2824" y="1164">Click Ledger Entries</text></g>
<g id="ra-5"><rect class="n" x="2764" y="1225" width="120" height="60"/><text class="t" x="2824" y="1252"><tspan x="2824">Select Payment in</tspan><tspan x="2824" dy="14.4">Ledger Entries</tspan></text></g>
<g id="ra-6"><rect class="n" x="2764" y="1317.5" width="120" height="60"/><text class="t" x="2824" y="1351.5">Select Process</text></g>
<g id="ra-7"><rect class="n" x="2766" y="1408" width="120" height="60"/><text class="t" x="2826" y="1442">Click Apply Entries</text></g>
<g id="ra-8"><rect class="n" x="2769.5" y="1505" width="120" height="60"/><text class="t" x="2829.5" y="1539">Select All Rows</text></g>
<g id="ra-9"><rect class="n" x="2769.5" y="1592" width="120" height="60"/><text class="t" x="2829.5" y="1626">Click Process</text></g>
<g id="ra-10"><rect class="n" x="2769.5" y="1680" width="120" height="60"/><text class="t" x="2829.5" y="1707"><tspan x="2829.5">Click Set Applies-to</tspan><tspan x="2829.5" dy="14.4">ID</tspan></text></g>
<g id="ra-11"><rect class="n" x="2769.5" y="1765" width="120" height="60"/><text class="t" x="2829.5" y="1799">Click Process</text></g>
<g id="ra-12"><rect class="n" x="2769.5" y="1852" width="120" height="60"/><text class="t" x="2829.5" y="1886">Click Post Application</text></g>
<g id="ra-13"><rect class="n" x="2769.5" y="1937" width="120" height="60"/><text class="t" x="2829.5" y="1971">GoTo Landing Page</text></g>
<g id="ra-14"><rect class="n" x="2769.5" y="2021" width="120" height="60"/><text class="t" x="2829.5" y="2048"><tspan x="2829.5">Click Payment Status</tspan><tspan x="2829.5" dy="14.4">List</tspan></text></g>
<g id="ra-15"><rect class="n" x="2769.5" y="2109" width="120" height="60"/><text class="t" x="2829.5" y="2136"><tspan x="2829.5">Filter by Invoice</tspan><tspan x="2829.5" dy="14.4">Number</tspan></text></g>
<g id="ra-16"><rect class="n" x="2769.5" y="2201" width="120" height="60"/><text class="t" x="2829.5" y="2228"><tspan x="2829.5">Most Recent Invoice</tspan><tspan x="2829.5" dy="14.4">Status is 'Paid'</tspan></text></g>

<!-- Undo Bank Rec. -->
<g id="ub-q"><polygon class="n" points="3124,749 3164,709.5 3204,749 3164,788.5"/><text class="t" x="3164" y="746"><tspan x="3164">Undo Bank</tspan><tspan x="3164" dy="14.4">Rec?</tspan></text></g>
<g id="ub-1"><rect class="n" x="3103.5" y="815" width="120" height="60"/><text class="t" x="3163.5" y="849">Click Bank Accounts</text></g>
<g id="ub-2"><rect class="n" x="3103.5" y="907" width="120" height="60"/><text class="t" x="3163.5" y="934"><tspan x="3163.5">Click Income</tspan><tspan x="3163.5" dy="14.4">Assistance Imprest</tspan></text></g>
<g id="ub-3"><rect class="n" x="3103.5" y="994" width="120" height="60"/><text class="t" x="3163.5" y="1028">Click Bank Account</text></g>
<g id="ub-4"><rect class="n" x="3103.5" y="1079.6" width="120" height="60"/><text class="t" x="3163.5" y="1113.6">Click Statements</text></g>
<g id="ub-5"><rect class="n" x="3103.5" y="1168" width="120" height="60"/><text class="t" x="3163.5" y="1195"><tspan x="3163.5">Filter by Bank Rec</tspan><tspan x="3163.5" dy="14.4">Statement Number</tspan></text></g>
<g id="ub-6"><rect class="n" x="3103.5" y="1261" width="120" height="60"/><text class="t" x="3163.5" y="1295">Highlight Statement</text></g>
<g id="ub-7"><rect class="n" x="3103.5" y="1353" width="120" height="60"/><text class="t" x="3163.5" y="1387">Click Process</text></g>
<g id="ub-8"><rect class="n" x="3103.5" y="1443.6" width="120" height="60"/><text class="t" x="3163.5" y="1477.6">Click Undo</text></g>
<g id="ub-9"><rect class="n" x="3103.5" y="1523" width="120" height="60"/><text class="t" x="3163.5" y="1557">GoTo Landing Page</text></g>
<g id="ub-10"><rect class="n" x="3103.5" y="1631" width="120" height="60"/><text class="t" x="3163.5" y="1658"><tspan x="3163.5">Click Payment Status</tspan><tspan x="3163.5" dy="14.4">List</tspan></text></g>
<g id="ub-11"><rect class="n" x="3103.5" y="1739" width="120" height="60"/><text class="t" x="3163.5" y="1766"><tspan x="3163.5">Filter by Invoice</tspan><tspan x="3163.5" dy="14.4">Number</tspan></text></g>
<g id="ub-12"><rect class="n" x="3103.5" y="1844" width="120" height="60"/><text class="t" x="3163.5" y="1871"><tspan x="3163.5">Most Recent Invoice</tspan><tspan x="3163.5" dy="14.4">Status is 'Paid'</tspan></text></g>

<!-- Reverse Invoices -->
<g id="ri-q"><polygon class="n" points="3463.5,749 3503.5,709.5 3543.5,749 3503.5,788.5"/><text class="t" x="3503.5" y="746"><tspan x="3503.5">Reverse</tspan><tspan x="3503.5" dy="14.4">Invoices?</tspan></text></g>
<g id="ri-1"><rect class="n" x="3443.5" y="830" width="120" height="60"/><text class="t" x="3503.5" y="864">Search for Vendors</text></g>
<g id="ri-2"><rect class="n" x="3443.5" y="933.6" width="120" height="60"/><text class="t" x="3503.5" y="960.6"><tspan x="3503.5">Find Vendor in</tspan><tspan x="3503.5" dy="14.4">Ledger</tspan></text></g>
<g id="ri-3"><rect class="n" x="3443.5" y="1040" width="120" height="60"/><text class="t" x="3503.5" y="1074">Click Vendor</text></g>
<g id="ri-4"><rect class="n" x="3443.5" y="1141" width="120" height="60"/><text class="t" x="3503.5" y="1175">Click Ledger Entries</text></g>
<g id="ri-5"><rect class="n" x="3443.5" y="1235.5" width="120" height="60"/><text class="t" x="3503.5" y="1262.5"><tspan x="3503.5">Select Invoice in</tspan><tspan x="3503.5" dy="14.4">Ledger Entries</tspan></text></g>
<g id="ri-6"><rect class="n" x="3443.5" y="1328" width="120" height="60"/><text class="t" x="3503.5" y="1362">Click Process</text></g>
<g id="ri-7"><rect class="n" x="3443.5" y="1425" width="120" height="60"/><text class="t" x="3503.5" y="1452"><tspan x="3503.5">Click Reverse</tspan><tspan x="3503.5" dy="14.4">Transaction</tspan></text></g>
<g id="ri-8"><rect class="n" x="3443.5" y="1526.5" width="120" height="60"/><text class="t" x="3503.5" y="1560.5">Click Reverse</text></g>
<g id="ri-9"><rect class="n" x="3443.5" y="1621" width="120" height="60"/><text class="t" x="3503.5" y="1655">GoTo Landing Page</text></g>
<g id="ri-10"><rect class="n" x="3443.5" y="1706.5" width="120" height="60"/><text class="t" x="3503.5" y="1733.5"><tspan x="3503.5">Click Payment Status</tspan><tspan x="3503.5" dy="14.4">List</tspan></text></g>
<g id="ri-11"><rect class="n" x="3443.5" y="1794" width="120" height="60"/><text class="t" x="3503.5" y="1821"><tspan x="3503.5">Filter by Invoice</tspan><tspan x="3503.5" dy="14.4">Number</tspan></text></g>
<g id="ri-12"><rect class="n" x="3443.5" y="1884" width="120" height="60"/><text class="t" x="3503.5" y="1911"><tspan x="3503.5">Most Recent Invoice</tspan><tspan x="3503.5" dy="14.4">Status is 'Cancelled'</tspan></text></g>

<!-- Finish -->
<g id="end"><ellipse class="n" cx="1833" cy="2984" rx="61" ry="29"/><text class="t" x="1833" y="2988">END</text></g>
</svg>
